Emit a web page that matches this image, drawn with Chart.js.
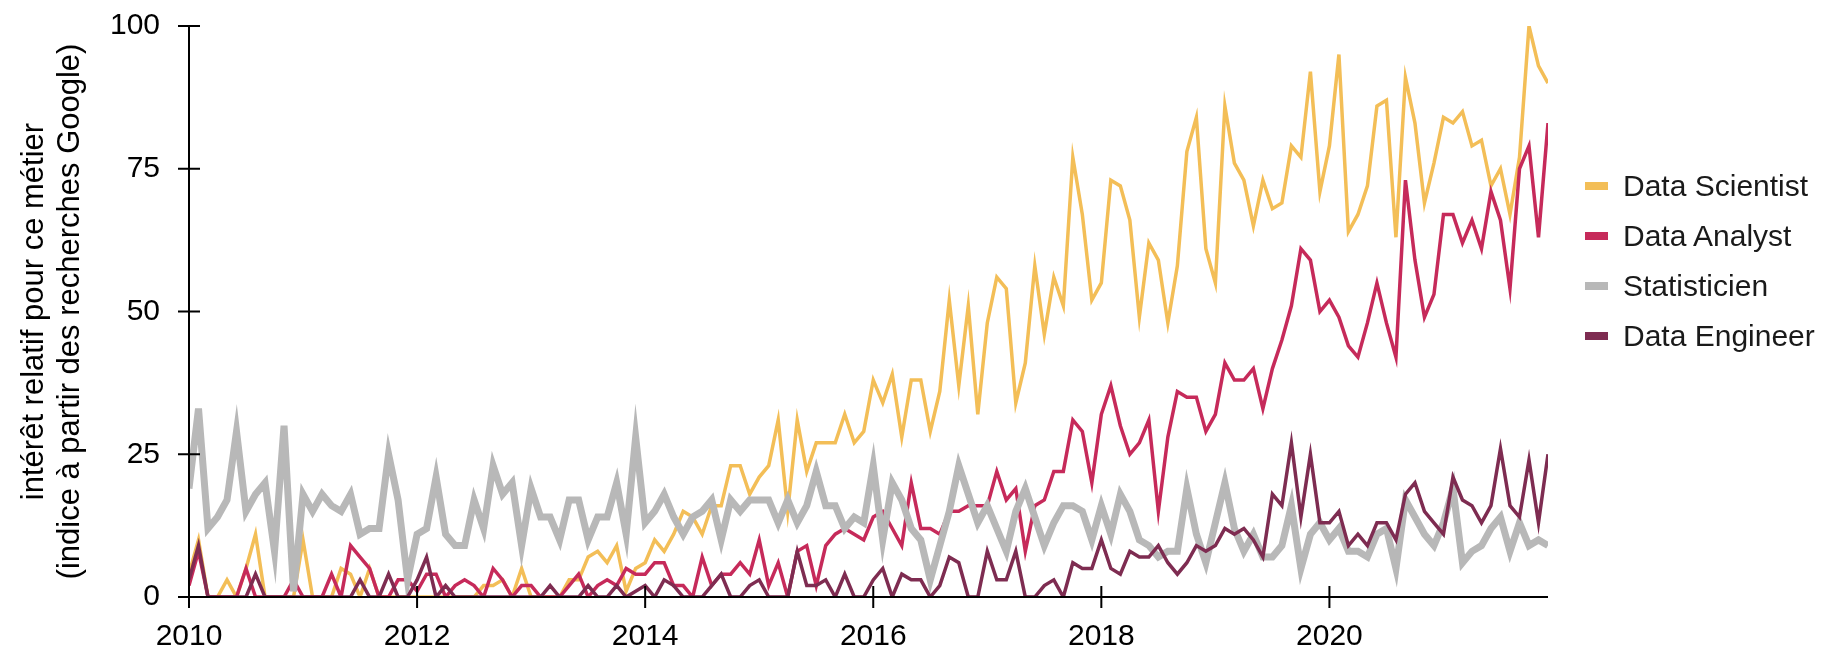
<!DOCTYPE html>
<html lang="fr">
<head>
<meta charset="utf-8">
<title>Intérêt relatif par métier</title>
<script src="https://cdn.jsdelivr.net/npm/chart.js@4.4.1/dist/chart.umd.min.js"></script>
<style>
  html, body { margin: 0; padding: 0; background: #fff; }
  #wrap { position: relative; width: 1825px; height: 652px; }
  #chart { position: absolute; left: 0; top: 0; }
  #legend {
    position: absolute; left: 1585px; top: 161px;
    font-family: 'Liberation Sans', Arial, sans-serif; font-size: 30px; color: #1a1a1a;
  }
  .item { height: 50px; display: flex; align-items: center; }
  .sw { width: 23px; height: 8px; margin-right: 15px; }
</style>
</head>
<body>
<div id="wrap">
  <canvas id="chart" width="1825" height="652"></canvas>
  <div id="legend"></div>
</div>
<script>
// Données mensuelles, janvier 2010 -> décembre 2021 (indice Google Trends)
const START_YEAR = 2010;

const seriesNames = ['Data Scientist', 'Data Analyst', 'Statisticien', 'Data Engineer'];

const dataScientist = [
  4, 10, 0, 0, 3, 0, 5, 11, 0, 0, 0, 0,
  10, 0, 0, 0, 5, 4, 0, 5, 0, 0, 0, 0,
  0, 0, 0, 0, 0, 0, 0, 2, 2, 3, 0, 5,
  0, 0, 0, 0, 3, 3, 7, 8, 6, 9, 1, 5,
  6, 10, 8, 11, 15, 14, 11, 16, 16, 23, 23, 18,
  21, 23, 31, 15, 31, 22, 27, 27, 27, 32, 27, 29,
  38, 34, 39, 28, 38, 38, 29, 36, 52, 37, 51, 32,
  48, 56, 54, 34, 41, 58, 46, 56, 51, 77, 67, 52,
  55, 73, 72, 66, 49, 62, 59, 48, 58, 78, 84, 61,
  55, 86, 76, 73, 65, 73, 68, 69, 79, 77, 92, 71,
  79, 95, 64, 67, 72, 86, 87, 63, 91, 83, 69, 76,
  84, 83, 85, 79, 80, 72, 75, 67, 77, 100, 93, 90
];

const dataAnalyst = [
  2, 8, 0, 0, 0, 0, 5, 0, 0, 0, 0, 3,
  0, 0, 0, 4, 0, 9, 7, 5, 0, 0, 3, 3,
  1, 4, 4, 0, 2, 3, 2, 0, 5, 3, 0, 2,
  2, 0, 0, 0, 2, 4, 0, 2, 3, 2, 5, 4,
  4, 6, 6, 2, 2, 0, 7, 2, 4, 4, 6, 4,
  10, 2, 6, 0, 8, 9, 2, 9, 11, 12, 11, 10,
  14, 15, 12, 9, 20, 12, 12, 11, 15, 15, 16, 16,
  16, 22, 17, 19, 8, 16, 17, 22, 22, 31, 29, 20,
  32, 37, 30, 25, 27, 31, 15, 28, 36, 35, 35, 29,
  32, 41, 38, 38, 40, 33, 40, 45, 51, 61, 59, 50,
  52, 49, 44, 42, 48, 55, 48, 42, 73, 59, 49, 53,
  67, 67, 62, 66, 61, 71, 66, 54, 75, 79, 63, 83
];

const statisticien = [
  19, 33, 12, 14, 17, 29, 15, 18, 20, 8, 30, 1,
  18, 15, 18, 16, 15, 18, 11, 12, 12, 25, 17, 3,
  11, 12, 21, 11, 9, 9, 17, 12, 23, 18, 20, 9,
  19, 14, 14, 10, 17, 17, 10, 14, 14, 20, 11, 28,
  13, 15, 18, 14, 11, 14, 15, 17, 10, 17, 15, 17,
  17, 17, 13, 17, 13, 16, 22, 16, 16, 12, 14, 13,
  23, 10, 20, 17, 12, 10, 3, 9, 15, 23, 18, 13,
  16, 12, 8, 15, 19, 14, 9, 13, 16, 16, 15, 10,
  16, 11, 18, 15, 10, 9, 7, 8, 8, 19, 11, 6,
  13, 20, 12, 8, 11, 7, 7, 9, 16, 5, 11, 13,
  10, 12, 8, 8, 7, 11, 12, 5, 17, 14, 11, 9,
  13, 19, 6, 8, 9, 12, 14, 8, 13, 9, 10, 9
];

const dataEngineer = [
  3, 9, 0, 0, 0, 0, 0, 4, 0, 0, 0, 0,
  0, 0, 0, 0, 0, 0, 3, 0, 0, 4, 0, 0,
  3, 7, 0, 2, 0, 0, 0, 0, 0, 0, 0, 0,
  0, 0, 2, 0, 0, 0, 2, 0, 0, 2, 0, 1,
  2, 0, 3, 2, 0, 0, 0, 2, 4, 0, 0, 2,
  3, 0, 0, 0, 8, 2, 2, 3, 0, 4, 0, 0,
  3, 5, 0, 4, 3, 3, 0, 2, 7, 6, 0, 0,
  8, 3, 3, 8, 0, 0, 2, 3, 0, 6, 5, 5,
  10, 5, 4, 8, 7, 7, 9, 6, 4, 6, 9, 8,
  9, 12, 11, 12, 10, 7, 18, 16, 27, 14, 25, 13,
  13, 15, 9, 11, 9, 13, 13, 10, 18, 20, 15, 13,
  11, 21, 17, 16, 13, 16, 26, 16, 14, 24, 13, 25
];

const yTicks = [0, 25, 50, 75, 100];
const xTickYears = [2010, 2012, 2014, 2016, 2018, 2020];

const COLORS = ['#F3BE57', '#C62A5A', '#B8B8B8', '#7E2C51'];
const WIDTHS = [3.5, 3.5, 7, 3.5];
const DRAW_ORDER = [3, 2, 1, 0]; // Data Engineer au-dessus
const FONT = "'Liberation Sans', Arial, sans-serif";
const TICK = 11;

// mois i -> année décimale
const toPoints = vals => vals.map((v, i) => ({ x: START_YEAR + i / 12, y: v }));

// Graduations qui traversent l'axe + lignes d'axe
const crossAxes = {
  id: 'crossAxes',
  afterDraw(chart) {
    const { ctx, scales: { x, y } } = chart;
    ctx.save();
    ctx.strokeStyle = '#000';
    ctx.lineWidth = 2;
    ctx.beginPath();
    ctx.moveTo(x.left, y.getPixelForValue(100));
    ctx.lineTo(x.left, y.bottom);
    ctx.moveTo(x.left, y.bottom);
    ctx.lineTo(x.right, y.bottom);
    x.ticks.forEach(t => {
      const px = x.getPixelForValue(t.value);
      ctx.moveTo(px, y.bottom - TICK);
      ctx.lineTo(px, y.bottom + TICK);
    });
    y.ticks.forEach(t => {
      const py = y.getPixelForValue(t.value);
      ctx.moveTo(x.left - TICK, py);
      ctx.lineTo(x.left + TICK, py);
    });
    ctx.stroke();
    ctx.restore();
  }
};

const allSeries = [dataScientist, dataAnalyst, statisticien, dataEngineer];

new Chart(document.getElementById('chart'), {
  type: 'line',
  data: {
    datasets: allSeries.map((vals, k) => ({
      label: seriesNames[k],
      data: toPoints(vals),
      borderColor: COLORS[k],
      borderWidth: WIDTHS[k],
      pointRadius: 0,
      tension: 0,
      fill: false,
      order: DRAW_ORDER[k],
    })),
  },
  options: {
    responsive: false,
    animation: false,
    devicePixelRatio: 1,
    layout: { padding: { left: 0, right: 277, top: 26, bottom: 0 } },
    plugins: { legend: { display: false }, tooltip: { enabled: false } },
    scales: {
      x: {
        type: 'linear',
        min: START_YEAR,
        max: START_YEAR + (dataScientist.length - 1) / 12,
        grid: { display: false, drawTicks: false },
        border: { display: false },
        afterBuildTicks: s => { s.ticks = xTickYears.map(v => ({ value: v })); },
        ticks: {
          padding: 22,
          color: '#000',
          font: { family: FONT, size: 30 },
          callback: v => String(v),
        },
        afterFit: s => { s.height = 55; s.paddingLeft = 0; s.paddingRight = 0; },
      },
      y: {
        min: 0,
        max: 100,
        grid: { display: false, drawTicks: false },
        border: { display: false },
        afterBuildTicks: s => { s.ticks = yTicks.map(v => ({ value: v })); },
        ticks: {
          padding: 29,
          color: '#000',
          font: { family: FONT, size: 30 },
        },
        title: {
          display: true,
          text: ['intérêt relatif pour ce métier', '(indice à partir des recherches Google)'],
          color: '#000',
          font: { family: FONT, size: 31, lineHeight: 1.15 },
          padding: { top: 17, bottom: 0 },
        },
        afterFit: s => { s.width = 189; s.paddingTop = 0; s.paddingBottom = 0; },
      },
    },
  },
  plugins: [crossAxes],
});

// Légende à droite
const legend = document.getElementById('legend');
seriesNames.forEach((name, k) => {
  const item = document.createElement('div');
  item.className = 'item';
  item.innerHTML = `<span class="sw" style="background:${COLORS[k]}"></span><span>${name}</span>`;
  legend.appendChild(item);
});
</script>
</body>
</html>
